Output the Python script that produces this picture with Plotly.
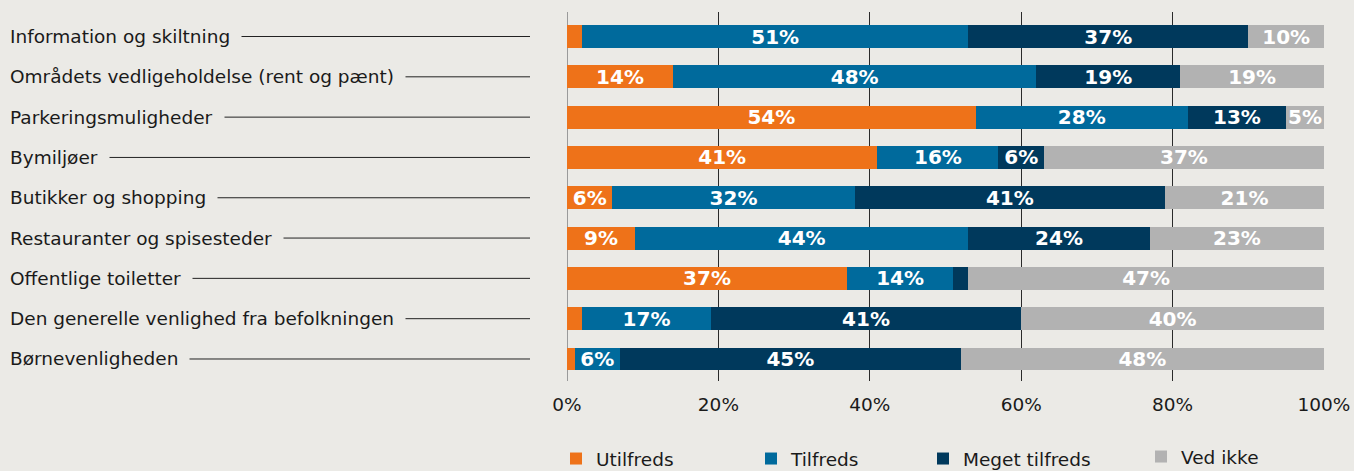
import plotly.graph_objects as go

categories = [
    "Information og skiltning",
    "Områdets vedligeholdelse (rent og pænt)",
    "Parkeringsmuligheder",
    "Bymiljøer",
    "Butikker og shopping",
    "Restauranter og spisesteder",
    "Offentlige toiletter",
    "Den generelle venlighed fra befolkningen",
    "Børnevenligheden",
]
utilfreds = [2, 14, 54, 41, 6, 9, 37, 2, 1]
tilfreds = [51, 48, 28, 16, 32, 44, 14, 17, 6]
meget_tilfreds = [37, 19, 13, 6, 41, 24, 2, 41, 45]
ved_ikke = [10, 19, 5, 37, 21, 23, 47, 40, 48]
tick_vals = [0, 20, 40, 60, 80, 100]
tick_text = ["0%", "20%", "40%", "60%", "80%", "100%"]

series = [
    ("Utilfreds", utilfreds, "#ee7219", "legend"),
    ("Tilfreds", tilfreds, "#006a9c", "legend2"),
    ("Meget tilfreds", meget_tilfreds, "#00395c", "legend3"),
    ("Ved ikke", ved_ikke, "#b2b2b2", "legend4"),
]

BG = "#ebeae6"
FONT = "DejaVu Sans"
W, H = 1354, 471
L, R, T, B = 567, 30, 12, 90
PW = W - L - R
PH = H - T - B

fig = go.Figure()
for name, vals, color, lg in series:
    fig.add_trace(go.Bar(
        name=name,
        y=list(range(len(categories))),
        x=vals,
        orientation="h",
        width=0.57,
        marker=dict(color=color, line=dict(width=0)),
        text=[f"{v}%" if v >= 5 else "" for v in vals],
        textposition="inside",
        insidetextanchor="middle",
        constraintext="none",
        textfont=dict(family=FONT, size=20, color="white", weight="bold"),
        legend=lg,
        hoverinfo="skip",
    ))

def px_x(p):
    return (p - L) / PW

def px_y(p):
    return (T + PH - p) / PH

PAD = 11
# category labels with leader lines
for i, cat in enumerate(categories):
    fig.add_shape(type="line", xref="paper", yref="y",
                  x0=px_x(10), x1=px_x(530), y0=i, y1=i,
                  line=dict(color="#222222", width=1))
    fig.add_annotation(text=cat, xref="paper", yref="y",
                       x=px_x(9 - PAD), y=i, xanchor="left", yanchor="middle",
                       showarrow=False, bgcolor=BG, borderpad=PAD,
                       font=dict(family=FONT, size=18.5, color="#1a1a1a"))

legend_common = dict(orientation="h", yanchor="middle", xanchor="left",
                     bgcolor="rgba(0,0,0,0)",
                     font=dict(family=FONT, size=18.5, color="#1a1a1a"))
legend_pos = {"legend": (556, 459), "legend2": (751, 459),
              "legend3": (923, 459), "legend4": (1141, 457)}
layout_legends = {}
for key, (lx, ly) in legend_pos.items():
    layout_legends[key] = dict(x=px_x(lx), y=px_y(ly), **legend_common)

fig.update_layout(
    width=W, height=H,
    barmode="stack",
    paper_bgcolor=BG, plot_bgcolor=BG,
    margin=dict(l=L, r=R, t=T, b=B, autoexpand=False),
    showlegend=True,
    font=dict(family=FONT, size=18.5, color="#1a1a1a"),
    xaxis=dict(range=[0, 100], tickvals=tick_vals, ticktext=tick_text,
               showgrid=True, gridcolor="#2a2a2a", gridwidth=1,
               zeroline=True, zerolinecolor="#9a9a9a", zerolinewidth=1,
               showline=False, ticks="", ticklabelstandoff=10,
               tickfont=dict(family=FONT, size=18.5, color="#1a1a1a"),
               fixedrange=True),
    yaxis=dict(range=[8.546, -0.608], showticklabels=False, showgrid=False,
               zeroline=False, showline=False, ticks="", fixedrange=True),
    **layout_legends,
)

fig.write_html("out.html", config={"displayModeBar": False},
               post_script="document.body.style.margin='0';document.body.style.background='%s';" % BG)
